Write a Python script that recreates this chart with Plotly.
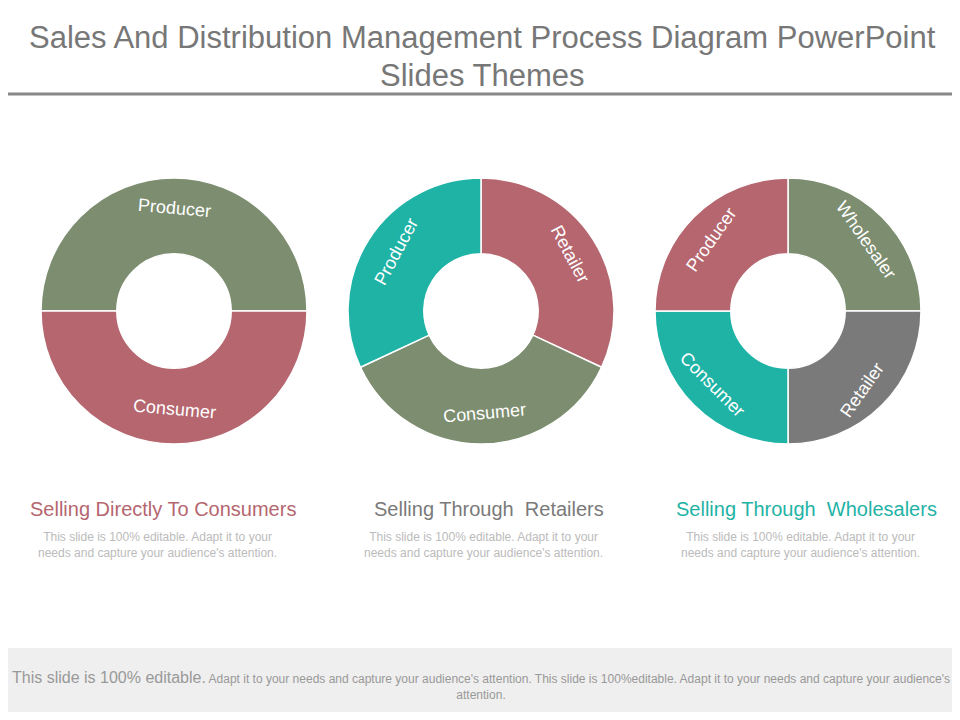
import plotly.graph_objects as go

W, H = 944, 704
OFF = 8
GREEN, RED, TEAL, GRAY = "#7C8D70", "#B5666F", "#1FB3A6", "#7A7A7A"

d1_labels = ["Producer", "Consumer"]; d1_vals = [180, 180]; d1_cols = [GREEN, RED]
d2_labels = ["Retailer", "Consumer", "Producer"]; d2_vals = [115, 130, 115]; d2_cols = [RED, GREEN, TEAL]
d3_labels = ["Wholesaler", "Retailer", "Consumer", "Producer"]; d3_vals = [90, 90, 90, 90]; d3_cols = [GREEN, GRAY, TEAL, RED]
titles = ["Selling Directly To Consumers", "Selling Through  Retailers", "Selling Through  Wholesalers"]
title_cols = [RED, GRAY, TEAL]

def px(x): return (x - OFF) / W
def py(y): return 1 - (y - OFF) / H

fig = go.Figure()
def donut(labels, vals, cols, cx, rot):
    r = 133; cy = 311
    fig.add_trace(go.Pie(labels=labels, values=vals, sort=False, direction="clockwise",
        rotation=rot, hole=0.43, textinfo="none", hoverinfo="label",
        marker=dict(colors=cols, line=dict(color="white", width=1.5)),
        domain=dict(x=[px(cx - r), px(cx + r)], y=[py(cy + r), py(cy - r)]), showlegend=False))
donut(d1_labels, d1_vals, d1_cols, 174, -90)
donut(d2_labels, d2_vals, d2_cols, 481, 0)
donut(d3_labels, d3_vals, d3_cols, 788, 0)

ann = []
def A(x, y, t, size=15, color="white", ang=0, xa="center", ya="middle"):
    ann.append(dict(x=px(x), y=py(y), xref="paper", yref="paper", text=t, showarrow=False,
                    textangle=ang, xanchor=xa, yanchor=ya, font=dict(size=size, color=color, family="Liberation Sans")))

LS = 18
A(174, 208, "Producer", size=LS, ang=5); A(174, 409, "Consumer", size=LS, ang=5)
A(396, 252, "Producer", size=LS, ang=-62); A(570, 254, "Retailer", size=LS, ang=62); A(484, 413, "Consumer", size=LS, ang=-5)
A(711, 240, "Producer", size=LS, ang=-55); A(866, 240, "Wholesaler", size=LS, ang=55)
A(712, 384, "Consumer", size=LS, ang=45); A(862, 390, "Retailer", size=LS, ang=-55)

A(482, 38, "Sales And Distribution Management Process Diagram PowerPoint", size=31, color="#777777")
A(482, 75, "Slides Themes", size=31, color="#777777")
body = "This slide is 100% editable. Adapt it to your<br>needs and capture your audience's attention."
for cx, t, c in zip([163, 489, 806], titles, title_cols):
    A(cx, 509, t, size=20, color=c)
for lx in [36, 362, 679]:
    A(lx, 545, body, size=12, color="#BBBBBB", xa="left")
A(481, 685, "<span style='font-size:16px'>This slide is 100% editable.</span> Adapt it to your needs and capture your audience's attention. This slide is 100%editable. Adapt it to your needs and capture your audience's<br>attention.",
  size=12, color="#999999")

shapes = [
    dict(type="line", xref="paper", yref="paper", x0=0, x1=1, y0=py(94), y1=py(94), line=dict(color="#888888", width=3)),
    dict(type="rect", xref="paper", yref="paper", x0=0, x1=1, y0=0, y1=py(648), fillcolor="#EFEFEF", line=dict(width=0), layer="below"),
]
fig.update_layout(width=W, height=H, margin=dict(l=0, r=0, t=0, b=0), paper_bgcolor="white",
                  annotations=ann, shapes=shapes)
fig.write_html("out.html")
